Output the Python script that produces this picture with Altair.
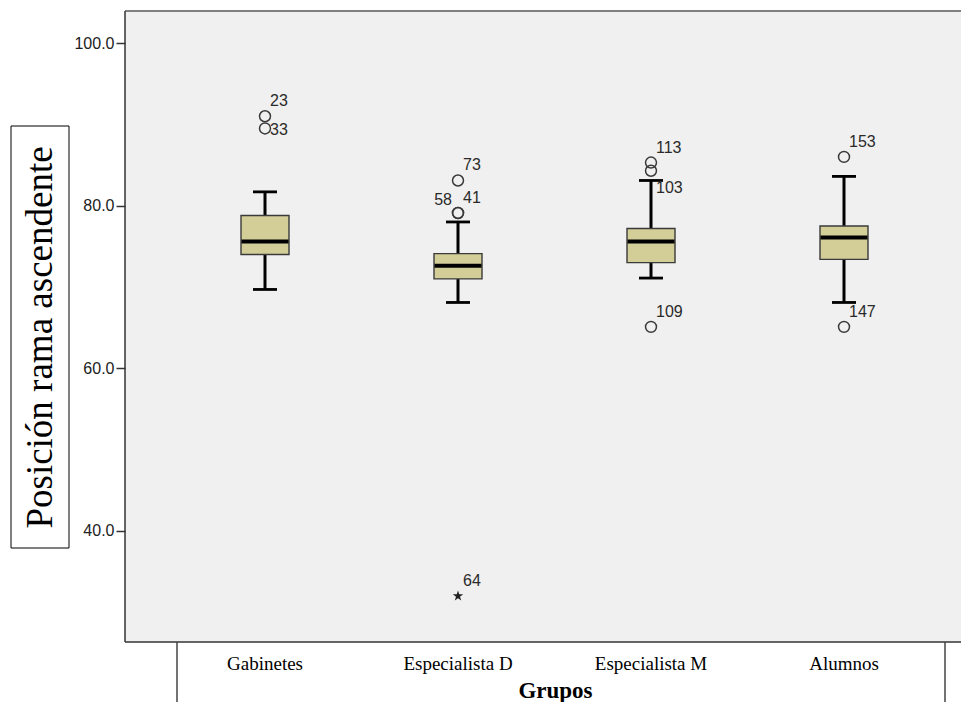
import altair as alt
import pandas as pd

# ---- data ----
groups = ["Gabinetes", "Especialista D", "Especialista M", "Alumnos"]
whisker_low = [69.7, 68.1, 71.1, 68.1]
q1 = [74.0, 71.0, 73.0, 73.4]
median = [75.6, 72.6, 75.6, 76.1]
q3 = [78.8, 74.1, 77.2, 77.5]
whisker_high = [81.7, 78.0, 83.1, 83.6]

outlier_group = ["Gabinetes", "Gabinetes", "Especialista D", "Especialista D", "Especialista D",
                 "Especialista M", "Especialista M", "Especialista M", "Alumnos", "Alumnos"]
outlier_value = [91.0, 89.5, 83.1, 79.1, 79.1, 85.3, 84.3, 65.1, 86.0, 65.1]
outlier_case = ["23", "33", "73", "58", "41", "113", "103", "109", "153", "147"]

extreme_group = ["Especialista D"]
extreme_value = [32.0]
extreme_case = ["64"]

y_ticks = [40, 60, 80, 100]

# ---- tables ----
boxes = pd.DataFrame({"group": groups, "lo": whisker_low, "q1": q1, "med": median,
                      "q3": q3, "hi": whisker_high})
outl = pd.DataFrame({"group": outlier_group, "value": outlier_value, "case": outlier_case})
ext = pd.DataFrame({"group": extreme_group, "value": extreme_value, "case": extreme_case})
placement = {"33": "right", "58": "left", "103": "below"}
labels = pd.concat([outl, ext], ignore_index=True)
labels["place"] = [placement.get(c, "above") for c in labels["case"]]
one = pd.DataFrame({"k": [0]})

W, H = 836, 631
xscale = alt.Scale(range=[43.5, 815.5], paddingInner=0, paddingOuter=0)
yscale = alt.Scale(domain=[26.35, 103.94], nice=False, zero=False)

xaxis = alt.Axis(title="Grupos", labelAngle=0)
yaxis = alt.Axis(values=y_ticks, format=".1f", title="Posición rama ascendente")


def X():
    return alt.X("group:N", sort=groups, scale=xscale, axis=xaxis)


def Y(field):
    return alt.Y(field, scale=yscale, axis=yaxis)


whisk = alt.Chart(boxes).mark_rule(color="#000", strokeWidth=3, opacity=1).encode(
    x=X(), y=Y("lo:Q"), y2="hi:Q")
box = alt.Chart(boxes).mark_bar(width=48, fill="#D3CE97", stroke="#3a3a3a", strokeWidth=1.4,
                                opacity=1).encode(
    x=X(), y=Y("q1:Q"), y2="q3:Q")
med = alt.Chart(boxes).mark_tick(size=47, thickness=4, color="#000", opacity=1).encode(
    x=X(), y=Y("med:Q"))
cap_hi = alt.Chart(boxes).mark_tick(size=24, thickness=2.8, color="#000", opacity=1).encode(
    x=X(), y=Y("hi:Q"))
cap_lo = alt.Chart(boxes).mark_tick(size=24, thickness=2.8, color="#000", opacity=1).encode(
    x=X(), y=Y("lo:Q"))

pts = alt.Chart(outl).mark_point(shape="circle", filled=False, size=120, stroke="#3a3a3a",
                                 strokeWidth=1.5, opacity=1).encode(
    x=X(), y=Y("value:Q"))
star = ("M0,-1L0.2245,-0.309L0.951,-0.309L0.363,0.118L0.588,0.809L0,0.382"
        "L-0.588,0.809L-0.363,0.118L-0.951,-0.309L-0.2245,-0.309Z")
ext_pt = alt.Chart(ext).mark_point(shape=star, filled=True, fill="#222", size=120,
                                   strokeWidth=0, opacity=1).encode(
    x=X(), y=Y("value:Q"))


def lab(place, align, dx, dy):
    return alt.Chart(labels).transform_filter(alt.datum.place == place).mark_text(
        align=align, baseline="middle", dx=dx, dy=dy, font="Liberation Sans", fontSize=16,
        color="#2a2a2a").encode(x=X(), y=Y("value:Q"), text="case:N")


lab_above = lab("above", "left", 5, -15)
lab_right = lab("right", "left", 5, 2)
lab_left = lab("left", "right", -6, -13)
lab_below = lab("below", "left", 5, 17)

# frame of plot area (no right edge visible in the reference)
top_b = alt.Chart(one).mark_rule(color="#808080", strokeWidth=2).encode(
    x=alt.value(0), x2=alt.value(W), y=alt.value(0))
left_b = alt.Chart(one).mark_rule(color="#333", strokeWidth=1.5).encode(
    x=alt.value(0), y=alt.value(0), y2=alt.value(H))
bot_b = alt.Chart(one).mark_rule(color="#333", strokeWidth=1.5).encode(
    x=alt.value(0), x2=alt.value(W), y=alt.value(H))

# text boxes around titles
ybox = alt.Chart(one).mark_rect(fillOpacity=0, stroke="#000", strokeWidth=1).encode(
    x=alt.value(-114), x2=alt.value(-56), y=alt.value(115), y2=alt.value(537))
xbox_l = alt.Chart(one).mark_rule(color="#444", strokeWidth=1.5).encode(
    x=alt.value(52), y=alt.value(H), y2=alt.value(H + 80))
xbox_r = alt.Chart(one).mark_rule(color="#444", strokeWidth=1.5).encode(
    x=alt.value(820), y=alt.value(H), y2=alt.value(H + 80))

chart = alt.layer(
    whisk, box, med, cap_hi, cap_lo, pts, ext_pt,
    lab_above, lab_right, lab_left, lab_below,
    top_b, left_b, bot_b, ybox, xbox_l, xbox_r,
).properties(
    width=W, height=H, autosize="none",
    padding={"left": 117, "top": 3, "right": 0, "bottom": 60},
    background="#FFFFFF",
).configure_view(
    fill="#F0F0F0", stroke=None
).configure_axisX(
    ticks=False, tickSize=0, domain=False, grid=False,
    labelFont="Liberation Serif", labelFontSize=19, labelColor="#000", labelPadding=12,
    titleFont="Liberation Serif", titleFontSize=23, titleFontWeight="bold", titleColor="#000",
    titleX=430, titleY=55, titleBaseline="alphabetic", titleAlign="center",
).configure_axisY(
    grid=False, domain=False,
    tickSize=9, tickColor="#333", tickWidth=1.5,
    labelFont="Liberation Sans", labelFontSize=16, labelColor="#222", labelPadding=2,
    titleFont="Liberation Serif", titleFontSize=37,
    titleFontWeight="normal", titleColor="#000", titleAngle=-90,
    titleX=-85, titleY=326, titleAlign="center", titleBaseline="middle",
)

chart.save("out.html", embed_options={"renderer": "svg", "actions": False})
